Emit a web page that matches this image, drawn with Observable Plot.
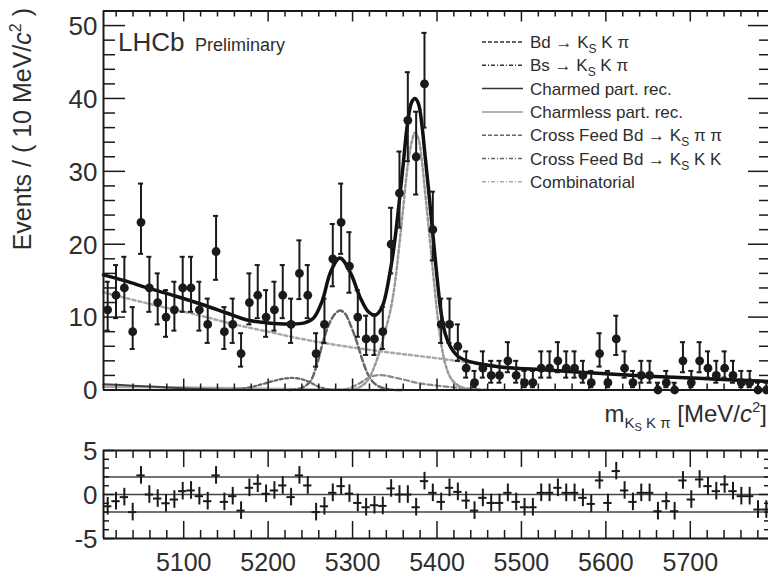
<!DOCTYPE html>
<html>
<head>
<meta charset="utf-8">
<script src="https://cdn.jsdelivr.net/npm/d3@7"></script>
<script src="https://cdn.jsdelivr.net/npm/@observablehq/plot@0.6"></script>
<style>
  html, body { margin: 0; padding: 0; background: #fff; }
  #fig { position: relative; width: 768px; height: 576px; overflow: hidden; background: #fff;
         font-family: "Liberation Sans", Arial, Helvetica, sans-serif; }
  #fig svg { position: absolute; left: 0; overflow: visible; }
</style>
</head>
<body>
<div id="fig"></div>
<script>
// ---------------- data ----------------
const massRange = [5005, 5795];            // histogram range (80 bins)
const counts = [11,13,14,8,23,14,12,10,11,14, 14,11,9,19,8,9,5,12,13,10,
                11,13,9,16,13,5,9,18,23,17, 10,7,7,8,20,27,37,32,42,22,
                9,9,6,3,1,3,2,2,4,2, 1,1,3,3,4,3,3,2,1,5,
                1,7,3,1,2,2,0,1,0,4, 1,4,3,2,3,2,1,1,0,0];
const pulls = [-1.34,-0.76,-0.3,-2.0,2.17,0,-0.46,-1.0,-0.57,0.38,
               0.46,-0.19,-0.76,2.17,-0.84,-0.19,-1.83,0.76,1.22,0.08,
               0.46,1.03,-0.3,2.17,1.03,-2.0,-1.34,0.19,0.95,0.1,
               -0.96,-1.45,-1.22,-1.3,0.69,0,0,-1.45,1.52,0.19,
               -0.84,0.76,0.3,-0.69,-1.83,-0.38,-0.96,-0.96,0.19,-0.84,
               -1.45,-1.45,0.19,0.19,0.76,0.19,0.19,-0.38,-1.07,1.6,
               -0.96,2.66,0.46,-0.84,0.19,0.19,-1.9,-0.76,-1.9,1.6,
               -0.57,1.71,0.95,0.38,1.14,0.38,-0.19,-0.19,-1.71,-1.71];

const totalFit = [[5005,15.8],[5030,15.0],[5060,13.9],[5090,12.9],[5120,11.8],[5150,10.6],[5175,9.6],
  [5200,9.2],[5225,9.05],[5243,9.2],[5254,9.9],[5264,12.2],[5274,16.2],[5285,18.1],[5297,16.2],
  [5309,12.7],[5319,10.7],[5327,10.3],[5335,11.4],[5345,16.6],[5350,20.5],[5355,25.5],[5360,31],
  [5365,36.5],[5370,39.5],[5374,40],[5378,39.3],[5382,36.5],[5386,32],[5390,27.5],[5395,21.5],
  [5400,15.5],[5405,10.5],[5410,7.6],[5416,5.9],[5424,4.7],[5432,4.15],[5450,3.6],[5475,3.15],
  [5530,2.75],[5590,2.3],[5650,1.9],[5720,1.55],[5795,1.15]];
const bdSignal = [[5225,0],[5240,0.3],[5250,1.2],[5258,3.6],[5265,6.6],[5272,9.0],[5279,10.4],[5285,10.9],
  [5291,10.5],[5298,8.8],[5305,6.6],[5312,4.0],[5318,2.2],[5325,1.0],[5333,0.4],[5345,0.05],[5360,0]];
const bsSignal = [[5295,0],[5305,0.2],[5317,1.2],[5329,4.2],[5338,7.8],[5345,11],[5350,14.5],[5355,19.5],
  [5360,25],[5365,30.5],[5370,34],[5374,35.3],[5378,34.5],[5382,31.5],[5386,27],[5390,22.5],[5395,16.5],
  [5400,10.8],[5405,6.3],[5410,3.5],[5416,1.7],[5424,0.7],[5435,0.2],[5450,0]];
const charmedPR = [[5005,0.8],[5040,0.6],[5080,0.35],[5120,0.15],[5160,0.04],[5200,0]];
const charmlessPR = [[5005,0.45],[5060,0.4],[5120,0.3],[5180,0.2],[5240,0.1],[5300,0.02],[5340,0]];
const crossFeedKSpipi = [[5280,0],[5295,0.2],[5308,0.9],[5318,1.6],[5328,2.0],[5338,2.0],[5350,1.7],
  [5365,1.3],[5380,0.9],[5400,0.6],[5420,0.35],[5440,0.15],[5465,0.03],[5490,0]];
const crossFeedKSKK = [[5150,0],[5170,0.2],[5190,0.7],[5205,1.2],[5218,1.55],[5230,1.65],[5242,1.4],
  [5252,0.9],[5262,0.35],[5275,0.05],[5290,0]];
const combinatorial = [[5005,13.4],[5060,11.8],[5120,10.2],[5160,9.0],[5200,8.0],[5240,7.0],[5285,6.1],
  [5340,5.2],[5390,4.5],[5430,3.9],[5470,3.3],[5530,2.8],[5590,2.3],[5650,1.95],[5720,1.6],[5795,1.25]];

const xTickLabels = [5100, 5200, 5300, 5400, 5500, 5600, 5700];
const yTickLabels = [0, 10, 20, 30, 40, 50];
const pullTickLabels = [-5, 0, 5];
const pullLines = [-2, 0, 2];

const legendItems = [
  {parts: [["Bd → K"], ["S", "sub"], [" K π"]], stroke: "#333", dash: "4,2", w: 1.5},
  {parts: [["Bs → K"], ["S", "sub"], [" K π"]], stroke: "#333", dash: "4,2,1,2", w: 1.5},
  {parts: [["Charmed part. rec."]], stroke: "#333", dash: null, w: 1.5},
  {parts: [["Charmless part. rec."]], stroke: "#999", dash: null, w: 1.5},
  {parts: [["Cross Feed Bd → K"], ["S", "sub"], [" π π"]], stroke: "#666", dash: "4,2", w: 1.5},
  {parts: [["Cross Feed Bd → K"], ["S", "sub"], [" K K"]], stroke: "#666", dash: "4,2,1,2", w: 1.5},
  {parts: [["Combinatorial"]], stroke: "#aaa", dash: "4,2,1,2", w: 1.5}
];

// ---------------- derived ----------------
const [lo, hi] = massRange;
const nBins = counts.length;
const binW = (hi - lo) / nBins;
const hist = counts.map((n, i) => ({
  x: lo + (i + 0.5) * binW, n,
  elo: n + 0.5 - Math.sqrt(n + 0.25),
  ehi: n + 0.5 + Math.sqrt(n + 0.25)
}));
const pullData = pulls.map((p, i) => ({x: lo + (i + 0.5) * binW, p}));

const X0 = 103, X1 = 770;
const kx = (hi - lo) / (X1 - X0);       // MeV per pixel
const topY = [389.5, 10.5], topDom = [0, 52];
const kyT = (topDom[1] - topDom[0]) / (topY[0] - topY[1]);
const botY = [98, 10], botDom = [-5, 5];
const kyB = (botDom[1] - botDom[0]) / (botY[0] - botY[1]);

const xMinor = d3.range(5020, hi, 20).filter(v => v % 100 !== 0);
const yMinorT = d3.range(2, 52, 2).filter(v => v % 10 !== 0);
const yMinorB = d3.range(-4, 5, 1).filter(v => v !== 0);
const ink = "#1a1a1a", txt = "#2e2e2e";
const font = "Liberation Sans, Arial, Helvetica, sans-serif";
const C = v => () => v;

const curve = (arr, opts) => Plot.line(arr, {x: d => d[0], y: d => d[1], curve: "catmull-rom", ...opts});

// ---------------- top panel ----------------
const topSvg = Plot.plot({
  width: 768, height: 440,
  marginLeft: X0, marginRight: 0, marginTop: 10, marginBottom: 50,
  x: {domain: massRange, range: [X0, X1], axis: null},
  y: {domain: topDom, range: topY, axis: null},
  style: {fontFamily: font, background: "transparent", overflow: "visible"},
  marks: [
    curve(charmlessPR, {stroke: "#aaa", strokeWidth: 2.5}),
    curve(charmedPR, {stroke: "#444", strokeWidth: 2}),
    curve(combinatorial, {stroke: "#a8a8a8", strokeWidth: 2.5, strokeDasharray: "3,3"}),
    curve(crossFeedKSKK, {stroke: "#666", strokeWidth: 2.2, strokeDasharray: "3,2.5"}),
    curve(crossFeedKSpipi, {stroke: "#888", strokeWidth: 2.2, strokeDasharray: "5,3"}),
    curve(bdSignal, {stroke: "#666", strokeWidth: 2.5, strokeDasharray: "6,3"}),
    curve(bsSignal, {stroke: "#999", strokeWidth: 2.5, strokeDasharray: "3,2.5"}),
    curve(totalFit, {stroke: "#111", strokeWidth: 3.5}),
    // data with Poisson error bars
    Plot.ruleX(hist, {x: "x", y1: "elo", y2: "ehi", stroke: ink, strokeWidth: 2}),
    Plot.ruleY(hist, {y: "elo", x1: d => d.x - 3, x2: d => d.x + 3, stroke: ink, strokeWidth: 2}),
    Plot.ruleY(hist, {y: "ehi", x1: d => d.x - 3, x2: d => d.x + 3, stroke: ink, strokeWidth: 2}),
    Plot.dot(hist, {x: "x", y: "n", r: 4.4, fill: ink, stroke: "none"}),
    // frame
    Plot.ruleY(topDom, {y: d => d, x1: C(lo), x2: C(hi), stroke: ink, strokeWidth: 2}),
    Plot.ruleX(massRange, {x: d => d, y1: C(topDom[0]), y2: C(topDom[1]), stroke: ink, strokeWidth: 2}),
    // x ticks (bottom & top, inward)
    Plot.ruleX(xMinor, {x: d => d, y1: C(0), y2: C(6 * kyT), stroke: ink, strokeWidth: 1.5}),
    Plot.ruleX(xTickLabels, {x: d => d, y1: C(0), y2: C(11 * kyT), stroke: ink, strokeWidth: 1.5}),
    Plot.ruleX(xMinor, {x: d => d, y1: C(52 - 6 * kyT), y2: C(52), stroke: ink, strokeWidth: 1.5}),
    Plot.ruleX(xTickLabels, {x: d => d, y1: C(52 - 11 * kyT), y2: C(52), stroke: ink, strokeWidth: 1.5}),
    // y ticks (left & right, inward)
    Plot.ruleY(yMinorT, {y: d => d, x1: C(lo), x2: C(lo + 12 * kx), stroke: ink, strokeWidth: 1.5}),
    Plot.ruleY(yTickLabels, {y: d => d, x1: C(lo), x2: C(lo + 22 * kx), stroke: ink, strokeWidth: 1.5}),
    Plot.ruleY(yMinorT, {y: d => d, x1: C(hi - 11 * kx), x2: C(hi), stroke: ink, strokeWidth: 1.5}),
    Plot.ruleY(yTickLabels, {y: d => d, x1: C(hi - 22 * kx), x2: C(hi), stroke: ink, strokeWidth: 1.5}),
    // y tick labels
    Plot.text(yTickLabels, {x: C(lo), y: d => d, text: d => String(d), textAnchor: "end", dx: -6, dy: 1,
      fontSize: 26, fill: txt})
  ]
});
topSvg.style.top = "0px";

// ---------------- residual panel ----------------
const botSvg = Plot.plot({
  width: 768, height: 136,
  marginLeft: X0, marginRight: 0, marginTop: 10, marginBottom: 38,
  x: {domain: massRange, range: [X0, X1], axis: null},
  y: {domain: botDom, range: botY, axis: null},
  style: {fontFamily: font, background: "transparent", overflow: "visible"},
  marks: [
    Plot.ruleY(pullLines, {y: d => d, x1: C(lo), x2: C(hi), stroke: "#444", strokeWidth: 1.5}),
    Plot.ruleX(pullData, {x: "x", y1: d => d.p - 1, y2: d => d.p + 1, stroke: ink, strokeWidth: 2}),
    Plot.ruleY(pullData, {y: "p", x1: d => d.x - binW / 2, x2: d => d.x + binW / 2, stroke: ink, strokeWidth: 2}),
    // frame
    Plot.ruleY(botDom, {y: d => d, x1: C(lo), x2: C(hi), stroke: ink, strokeWidth: 2}),
    Plot.ruleX(massRange, {x: d => d, y1: C(botDom[0]), y2: C(botDom[1]), stroke: ink, strokeWidth: 2}),
    // x ticks
    Plot.ruleX(xMinor, {x: d => d, y1: C(-5), y2: C(-5 + 8 * kyB), stroke: ink, strokeWidth: 1.5}),
    Plot.ruleX(xTickLabels, {x: d => d, y1: C(-5), y2: C(-5 + 17 * kyB), stroke: ink, strokeWidth: 1.5}),
    Plot.ruleX(xMinor, {x: d => d, y1: C(5 - 8 * kyB), y2: C(5), stroke: ink, strokeWidth: 1.5}),
    Plot.ruleX(xTickLabels, {x: d => d, y1: C(5 - 17 * kyB), y2: C(5), stroke: ink, strokeWidth: 1.5}),
    // y ticks
    Plot.ruleY(yMinorB, {y: d => d, x1: C(lo), x2: C(lo + 6 * kx), stroke: ink, strokeWidth: 1.5}),
    Plot.ruleY(pullTickLabels, {y: d => d, x1: C(lo), x2: C(lo + 11 * kx), stroke: ink, strokeWidth: 1.5}),
    Plot.ruleY(yMinorB, {y: d => d, x1: C(hi - 6 * kx), x2: C(hi), stroke: ink, strokeWidth: 1.5}),
    Plot.ruleY(pullTickLabels, {y: d => d, x1: C(hi - 11 * kx), x2: C(hi), stroke: ink, strokeWidth: 1.5}),
    // labels
    Plot.text(pullTickLabels, {x: C(lo), y: d => d, text: d => String(d), textAnchor: "end", dx: -6, dy: 1,
      fontSize: 26, fill: txt}),
    Plot.text(xTickLabels, {x: d => d, y: C(-5), text: d => String(d), dy: 24, fontSize: 25, fill: txt})
  ]
});
botSvg.style.top = "440px";

const fig = document.getElementById("fig");
fig.appendChild(topSvg);
fig.appendChild(botSvg);

// ---------------- annotations (real text) ----------------
const svg = d3.select(topSvg);
const addText = (x, y, size) => svg.append("text").attr("x", x).attr("y", y)
  .attr("font-size", size).attr("fill", txt).attr("font-family", font).attr("text-anchor", "start");

// legend
legendItems.forEach((it, i) => {
  const yc = 42 + i * 23.3;
  svg.append("line").attr("x1", 482).attr("x2", 523).attr("y1", yc).attr("y2", yc)
    .attr("stroke", it.stroke).attr("stroke-width", it.w)
    .attr("stroke-dasharray", it.dash);
  const t = addText(530, yc + 6, 17);
  let afterSub = false;
  it.parts.forEach(([s, kind]) => {
    const ts = t.append("tspan").text(s);
    if (kind === "sub") { ts.attr("font-size", 12).attr("dy", 5); afterSub = true; }
    else if (afterSub) { ts.attr("dy", -5); afterSub = false; }
  });
});

// LHCb label
addText(118, 51, 26).text("LHCb");
addText(195, 51, 18).text("Preliminary");

// y axis title
const yt = svg.append("text").attr("transform", "translate(31,8) rotate(-90)")
  .attr("text-anchor", "end").attr("font-size", 25).attr("fill", txt).attr("font-family", font);
yt.append("tspan").text("Events / ( 10 MeV/");
yt.append("tspan").attr("font-style", "italic").text("c");
yt.append("tspan").attr("font-size", 16).attr("dy", -10).text("2");
yt.append("tspan").attr("dy", 10).text(" )");

// x axis title
const xt = svg.append("text").attr("x", 767).attr("y", 422).attr("text-anchor", "end")
  .attr("font-size", 24).attr("fill", txt).attr("font-family", font);
xt.append("tspan").text("m");
xt.append("tspan").attr("font-size", 15).attr("dy", 6).text("K");
xt.append("tspan").attr("font-size", 11).attr("dy", 3).text("S");
xt.append("tspan").attr("font-size", 15).attr("dy", -3).text(" K π");
xt.append("tspan").attr("dy", -6).text(" [MeV/");
xt.append("tspan").attr("font-style", "italic").text("c");
xt.append("tspan").attr("font-size", 15).attr("dy", -10).text("2");
xt.append("tspan").attr("dy", 10).text("]");
</script>
</body>
</html>
